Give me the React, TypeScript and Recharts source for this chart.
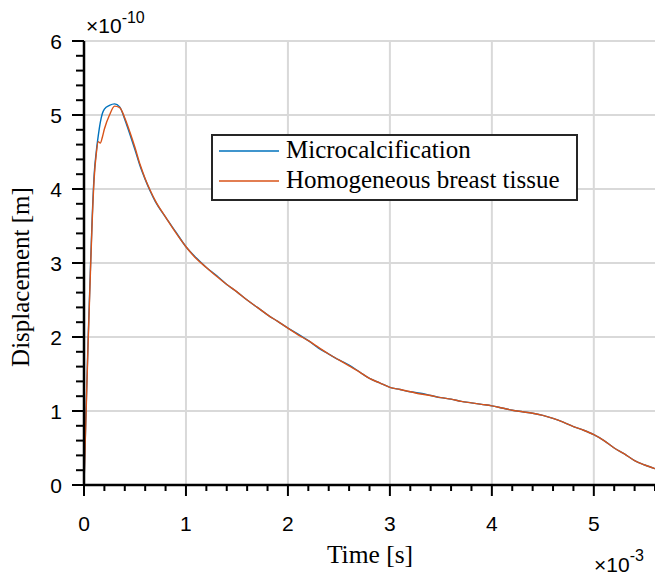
import React from 'react';
import { LineChart, Line, XAxis, YAxis, CartesianGrid, Legend } from 'recharts';

// time in units of 1e-3 s, displacement in units of 1e-10 m
const timeMs = [
  0, 0.02, 0.04, 0.06, 0.08, 0.1, 0.12, 0.14, 0.16, 0.18, 0.2,
  0.25, 0.3, 0.35, 0.4, 0.45, 0.5, 0.55, 0.6, 0.65, 0.7,
  0.8, 0.9, 1.0, 1.1, 1.2, 1.3, 1.4, 1.5, 1.6, 1.7, 1.8, 1.9, 2.0,
  2.1, 2.2, 2.3, 2.4, 2.5, 2.6, 2.7, 2.8, 2.9, 3.0,
  3.1, 3.2, 3.3, 3.4, 3.5, 3.6, 3.7, 3.8, 3.9, 4.0,
  4.1, 4.2, 4.3, 4.4, 4.5, 4.6, 4.7, 4.8, 4.9, 5.0,
  5.1, 5.2, 5.3, 5.4, 5.5, 5.6,
];

const microcalcification = [
  0, 1.0, 1.95, 2.8, 3.6, 4.2, 4.5, 4.72, 4.9, 5.02, 5.08,
  5.13, 5.15, 5.11, 4.94, 4.74, 4.53, 4.31, 4.13, 3.97, 3.83,
  3.62, 3.42, 3.22, 3.07, 2.94, 2.83, 2.71, 2.61, 2.5, 2.4, 2.3, 2.21, 2.12,
  2.04, 1.95, 1.85, 1.77, 1.69, 1.62, 1.53, 1.44, 1.38, 1.32,
  1.29, 1.26, 1.24, 1.21, 1.18, 1.16, 1.13, 1.11, 1.09, 1.07,
  1.04, 1.01, 0.99, 0.97, 0.94, 0.9, 0.85, 0.79, 0.74, 0.68,
  0.6, 0.5, 0.42, 0.33, 0.27, 0.22,
];

const homogeneous = [
  0, 0.95, 1.9, 2.75, 3.55, 4.15, 4.47, 4.64, 4.62, 4.7, 4.81,
  5.0, 5.12, 5.1, 4.96, 4.77, 4.56, 4.33, 4.14, 3.98, 3.84,
  3.62, 3.41, 3.22, 3.06, 2.94, 2.82, 2.71, 2.61, 2.5, 2.4, 2.3, 2.21, 2.12,
  2.03, 1.95, 1.86, 1.77, 1.69, 1.61, 1.53, 1.44, 1.38, 1.32,
  1.29, 1.26, 1.23, 1.21, 1.18, 1.16, 1.13, 1.11, 1.09, 1.07,
  1.04, 1.01, 0.99, 0.97, 0.94, 0.9, 0.85, 0.79, 0.74, 0.68,
  0.6, 0.5, 0.42, 0.33, 0.27, 0.22,
];

const seriesNames = ['Microcalcification', 'Homogeneous breast tissue'];
const seriesColors = ['#0072BD', '#D95319'];

const xMajorTicks = [0, 1, 2, 3, 4, 5];
const xAllTicks = [
  0, 0.2, 0.4, 0.6, 0.8, 1, 1.2, 1.4, 1.6, 1.8, 2, 2.2, 2.4, 2.6, 2.8, 3,
  3.2, 3.4, 3.6, 3.8, 4, 4.2, 4.4, 4.6, 4.8, 5, 5.2, 5.4, 5.6,
];
const yMajorTicks = [0, 1, 2, 3, 4, 5, 6];
const yAllTicks = [
  0, 0.2, 0.4, 0.6, 0.8, 1, 1.2, 1.4, 1.6, 1.8, 2, 2.2, 2.4, 2.6, 2.8, 3,
  3.2, 3.4, 3.6, 3.8, 4, 4.2, 4.4, 4.6, 4.8, 5, 5.2, 5.4, 5.6, 5.8, 6,
];

const data = timeMs.map((t, i) => ({
  t,
  micro: microcalcification[i],
  homo: homogeneous[i],
}));

const SANS = '"Liberation Sans", Arial, Helvetica, sans-serif';
const SERIF = '"Liberation Serif", "Times New Roman", serif';

const XTick = (props: any) => {
  const { x, y, payload } = props;
  const v = payload.value;
  const major = xMajorTicks.includes(v);
  return (
    <g>
      <line x1={x} x2={x} y1={y} y2={y + (major ? 11 : 6)} stroke="#000" strokeWidth={2} />
      {major && (
        <text x={x} y={y + 46} textAnchor="middle" fontSize={21} fontFamily={SANS} fill="#000">
          {v}
        </text>
      )}
    </g>
  );
};

const YTick = (props: any) => {
  const { x, y, payload } = props;
  const v = payload.value;
  const major = yMajorTicks.includes(v);
  return (
    <g>
      <line x1={x - (major ? 12 : 8)} x2={x} y1={y} y2={y} stroke="#000" strokeWidth={2} />
      {major && (
        <text x={x - 22} y={y + 8} textAnchor="end" fontSize={21} fontFamily={SANS} fill="#000">
          {v}
        </text>
      )}
    </g>
  );
};

const renderLegend = (props: any) => {
  const payload = [...(props.payload || [])].sort(
    (a: any, b: any) => seriesNames.indexOf(a.value) - seriesNames.indexOf(b.value)
  );
  return (
    <div
      style={{
        boxSizing: 'border-box',
        width: 367,
        height: 67,
        border: '2.5px solid #262626',
        background: '#fff',
        paddingTop: 0,
      }}
    >
      {payload.map((entry: any, i: number) => (
        <div key={i} style={{ display: 'flex', alignItems: 'center', height: 30 }}>
          <svg width={66} height={4} style={{ display: 'block' }}>
            <line x1={6} x2={66} y1={2} y2={2} stroke={entry.color} strokeWidth={1.3} />
          </svg>
          <span
            style={{
              marginLeft: 7,
              fontFamily: SERIF,
              fontSize: 25,
              color: '#000',
              whiteSpace: 'nowrap',
              position: 'relative',
              top: -1,
            }}
          >
            {entry.value}
          </span>
        </div>
      ))}
    </div>
  );
};

export default function App() {
  return (
    <div style={{ position: 'absolute', left: 0, top: 0, width: 655, height: 576, background: '#fff' }}>
      <LineChart
        width={655}
        height={576}
        data={data}
        margin={{ top: 41, right: 0, bottom: 0, left: 0 }}
      >
        <CartesianGrid
          stroke="#d9d9d9"
          strokeWidth={2}
          horizontalValues={yMajorTicks}
          verticalValues={xMajorTicks}
        />
        <XAxis
          dataKey="t"
          type="number"
          domain={[0, 5.6]}
          ticks={xAllTicks}
          interval={0}
          allowDataOverflow
          height={91}
          tickSize={0}
          tickMargin={0}
          tickLine={false}
          axisLine={{ stroke: '#000', strokeWidth: 2.5 }}
          tick={<XTick />}
        />
        <YAxis
          type="number"
          domain={[0, 6]}
          ticks={yAllTicks}
          interval={0}
          allowDataOverflow
          width={84}
          tickSize={0}
          tickMargin={0}
          tickLine={false}
          axisLine={{ stroke: '#000', strokeWidth: 2.5 }}
          tick={<YTick />}
        />
        <Legend
          layout="horizontal"
          verticalAlign="middle"
          align="center"
          content={renderLegend}
          wrapperStyle={{ left: 211, top: 134, width: 367, height: 67, right: 'auto', bottom: 'auto' }}
        />
        <Line
          type="monotone"
          dataKey="micro"
          name={seriesNames[0]}
          stroke={seriesColors[0]}
          strokeWidth={1.4}
          dot={false}
          isAnimationActive={false}
        />
        <Line
          type="monotone"
          dataKey="homo"
          name={seriesNames[1]}
          stroke={seriesColors[1]}
          strokeWidth={1.4}
          dot={false}
          isAnimationActive={false}
        />
      </LineChart>
      <svg
        width={655}
        height={576}
        style={{ position: 'absolute', left: 0, top: 0, pointerEvents: 'none' }}
      >
        <text x={86} y={33} fontSize={21} fontFamily={SANS} fill="#000">
          ×10
          <tspan dy={-10} fontSize={16}>-10</tspan>
        </text>
        <text x={594} y={572} fontSize={21} fontFamily={SANS} fill="#000">
          ×10
          <tspan dy={-11} fontSize={16}>-3</tspan>
        </text>
        <text x={370} y={563} textAnchor="middle" fontSize={25.5} fontFamily={SERIF} fill="#000">
          Time [s]
        </text>
        <text
          x={0}
          y={0}
          transform="translate(29, 277) rotate(-90)"
          textAnchor="middle"
          fontSize={25}
          fontFamily={SERIF}
          fill="#000"
        >
          Displacement [m]
        </text>
      </svg>
    </div>
  );
}
